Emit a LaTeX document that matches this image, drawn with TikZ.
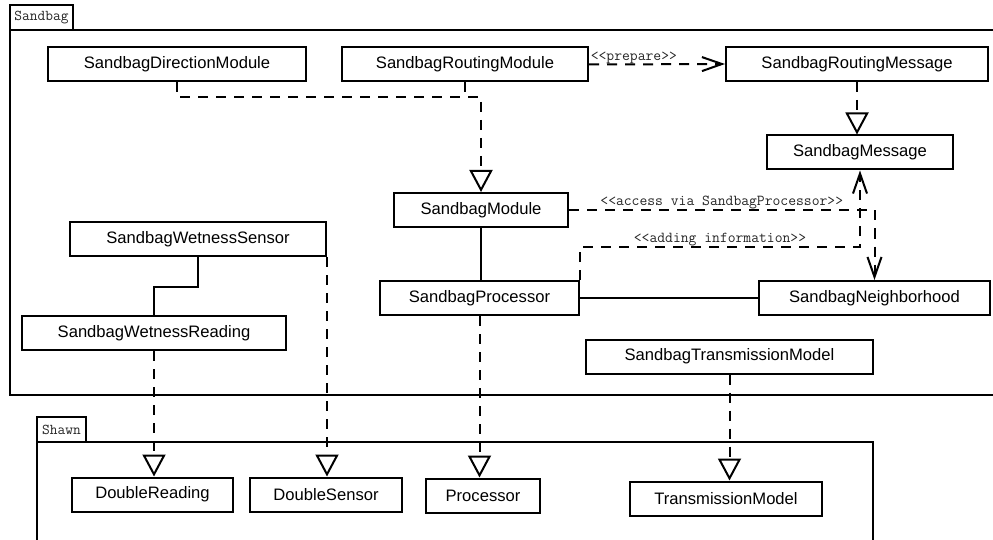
\documentclass[tikz,border=0pt]{standalone}
\usepackage{fontspec}
\setmainfont{Liberation Sans}
\usetikzlibrary{arrows.meta,calc}

\tikzset{
  cls/.style={draw, line width=2pt, fill=white, inner sep=0pt,
    minimum height=34pt, font=\fontsize{16.6pt}{19pt}\selectfont},
  pkgline/.style={line width=2pt},
  pkgtab/.style={font=\ttfamily\fontsize{15pt}{17pt}\selectfont, inner sep=0pt, text=black!85},
  lbl/.style={font=\ttfamily\fontsize{15.2pt}{17pt}\selectfont, inner sep=0pt, text=black!85},
  dep/.style={line width=2pt, dash pattern=on 10pt off 8pt},
  realize/.style={dep, -{Triangle[open, length=22pt, width=23pt, line width=2pt]}},
  uses/.style={dep, -{Straight Barb[length=20pt, width=14pt, line width=2pt]}},
  assoc/.style={line width=1.6pt},
}

\begin{document}
\begin{tikzpicture}[x=1pt, y=-1pt]
  \clip (0,0) rectangle (993,540);
  \fill[white] (0,0) rectangle (993,540);

  % package Sandbag
  \draw[pkgline] (10,30) rectangle (1005,395);
  \draw[pkgline] (10,5) rectangle (73,30);
  \node[pkgtab] (sandbagtab) at (41.5,18) {Sandbag};

  % package Shawn
  \draw[pkgline] (37,442) rectangle (873,560);
  \draw[pkgline] (37,417) rectangle (86,442);
  \node[pkgtab] (shawntab) at (61.5,430) {Shawn};

  % classes of Sandbag
  \node[cls, minimum width=258pt] (dm)   at (177,64)    {SandbagDirectionModule};
  \node[cls, minimum width=246pt] (rm)   at (465,64.5)  {SandbagRoutingModule};
  \node[cls, minimum width=262pt] (rmsg) at (857,64)    {SandbagRoutingMessage};
  \node[cls, minimum width=186pt] (msg)  at (860,152.5) {SandbagMessage};
  \node[cls, minimum width=174pt] (sm)   at (481,210)   {SandbagModule};
  \node[cls, minimum width=199pt] (sp)   at (479.5,298) {SandbagProcessor};
  \node[cls, minimum width=231pt] (nb)   at (874.5,298) {SandbagNeighborhood};
  \node[cls, minimum width=256pt] (ws)   at (198,239)   {SandbagWetnessSensor};
  \node[cls, minimum width=264pt] (wr)   at (154,333)   {SandbagWetnessReading};
  \node[cls, minimum width=287pt] (stm)  at (729.5,356.5) {SandbagTransmissionModel};

  % classes of Shawn
  \node[cls, minimum width=161pt] (dr) at (152.5,494.5) {DoubleReading};
  \node[cls, minimum width=152pt] (ds) at (326,494.5)   {DoubleSensor};
  \node[cls, minimum width=114pt] (pr) at (483,495.5)   {Processor};
  \node[cls, minimum width=192pt] (tm) at (726,498.5)   {TransmissionModel};

  % modules realize SandbagModule
  \coordinate (jn) at (sm.north |- 0,97);
  \draw[realize] (dm.south) |- (jn) -- (sm.north);
  \draw[dep] (rm.south) -- (rm.south |- jn);

  % routing module prepares routing messages
  \draw[uses] (rm.east) -- node[lbl, pos=0.33, above=-1pt] {<<prepare>>} (rmsg.west);
  \draw[realize] (rmsg.south) -- (rmsg.south |- msg.north);

  % access and information flow
  \draw[uses] (sm.east) -| node[lbl, pos=0.25, above=0pt] {<<access via SandbagProcessor>>} (nb.north);
  \draw[uses] (sp.north east) -- ++(0,-33) -| node[lbl, pos=0.25, above=0pt] {<<adding information>>} (msg.south);

  % associations
  \draw[assoc] (sm.south) -- (sm.south |- sp.north);
  \draw[assoc] (sp.east) -- (nb.west);
  \draw[assoc] (ws.south) -- ++(0,30) -| (wr.north);

  % realizations of Shawn classes
  \draw[realize] (wr.south) -- (wr.south |- dr.north);
  \draw[realize] (ws.south east) -- (ws.south east |- ds.north);
  \draw[realize] (sp.south) -- (sp.south |- pr.north);
  \draw[realize] (stm.south) -- (stm.south |- tm.north);
\end{tikzpicture}
\end{document}
